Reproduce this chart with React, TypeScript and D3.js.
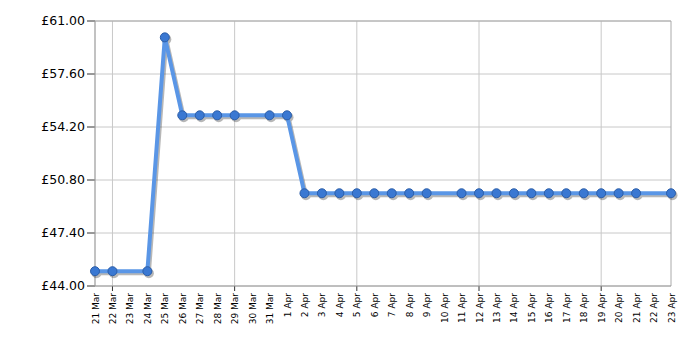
import React from "react";
import * as d3 from "d3";

const dayLabels = ["21 Mar","22 Mar","23 Mar","24 Mar","25 Mar","26 Mar","27 Mar","28 Mar","29 Mar","30 Mar","31 Mar","1 Apr","2 Apr","3 Apr","4 Apr","5 Apr","6 Apr","7 Apr","8 Apr","9 Apr","10 Apr","11 Apr","12 Apr","13 Apr","14 Apr","15 Apr","16 Apr","17 Apr","18 Apr","19 Apr","20 Apr","21 Apr","22 Apr","23 Apr"];
const priceDays = ["21 Mar","22 Mar","24 Mar","25 Mar","26 Mar","27 Mar","28 Mar","29 Mar","31 Mar","1 Apr","2 Apr","3 Apr","4 Apr","5 Apr","6 Apr","7 Apr","8 Apr","9 Apr","11 Apr","12 Apr","13 Apr","14 Apr","15 Apr","16 Apr","17 Apr","18 Apr","19 Apr","20 Apr","21 Apr","23 Apr"];
const prices = [44.95,44.95,44.95,59.95,54.95,54.95,54.95,54.95,54.95,54.95,49.95,49.95,49.95,49.95,49.95,49.95,49.95,49.95,49.95,49.95,49.95,49.95,49.95,49.95,49.95,49.95,49.95,49.95,49.95,49.95];
const yTicks = [44, 47.4, 50.8, 54.2, 57.6, 61];
const gridDays = ["22 Mar","29 Mar","5 Apr","12 Apr","19 Apr"];

export default function App() {
  const W = 700, H = 350;
  const left = 95, right = 671, top = 21, bottom = 286;
  const x = d3.scalePoint<string>().domain(dayLabels).range([left, right]);
  const y = d3.scaleLinear().domain([44, 61]).range([bottom, top]);
  const pts = priceDays.map((d, i) => [x(d)!, y(prices[i])] as [number, number]);
  const line = d3.line().curve(d3.curveLinear)(pts) || "";
  const font = "Verdana, 'DejaVu Sans', sans-serif";
  return (
    <svg width={W} height={H} style={{ position: "absolute", left: 0, top: 0 }}>
      <rect x={0} y={0} width={W} height={H} fill="#fff" />
      {yTicks.map((t) => (
        <g key={t}>
          <line x1={left} x2={right} y1={y(t)} y2={y(t)} stroke="#c8c8c8" strokeWidth={1} />
          <line x1={left - 8} x2={left} y1={y(t)} y2={y(t)} stroke="#333" strokeWidth={1} />
          <text x={left - 10} y={y(t)} dy="0.35em" textAnchor="end" fontFamily={font} fontSize={12.5} fill="#000">
            {"£" + t.toFixed(2)}
          </text>
        </g>
      ))}
      {gridDays.map((d) => (
        <g key={d}>
          <line x1={x(d)} x2={x(d)} y1={top} y2={bottom} stroke="#c8c8c8" strokeWidth={1} />
          <line x1={x(d)} x2={x(d)} y1={bottom} y2={bottom + 5} stroke="#333" strokeWidth={1} />
        </g>
      ))}
      <line x1={left} x2={left} y1={top} y2={bottom} stroke="#999" strokeWidth={1.2} />
      <line x1={right} x2={right} y1={top} y2={bottom} stroke="#aaa" strokeWidth={1} />
      <line x1={left} x2={right} y1={top} y2={top} stroke="#aaa" strokeWidth={1} />
      <line x1={left} x2={right} y1={bottom} y2={bottom} stroke="#999" strokeWidth={1.2} />
      {dayLabels.map((d) => (
        <text key={d} transform={`translate(${x(d)! + 3.5},${bottom + 7}) rotate(-90)`} textAnchor="end" fontFamily={font} fontSize={9} fill="#000">
          {d}
        </text>
      ))}
      <g transform="translate(1.5,2)" opacity={0.35}>
        <path d={line} fill="none" stroke="#333" strokeWidth={4} strokeLinejoin="round" />
        {pts.map((p, i) => (
          <circle key={i} cx={p[0]} cy={p[1]} r={5} fill="#333" />
        ))}
      </g>
      <path d={line} fill="none" stroke="#5a96e6" strokeWidth={4} strokeLinejoin="round" />
      {pts.map((p, i) => (
        <circle key={i} cx={p[0]} cy={p[1]} r={4.5} fill="#3a78d2" stroke="#2c5ea8" strokeWidth={1} />
      ))}
    </svg>
  );
}
